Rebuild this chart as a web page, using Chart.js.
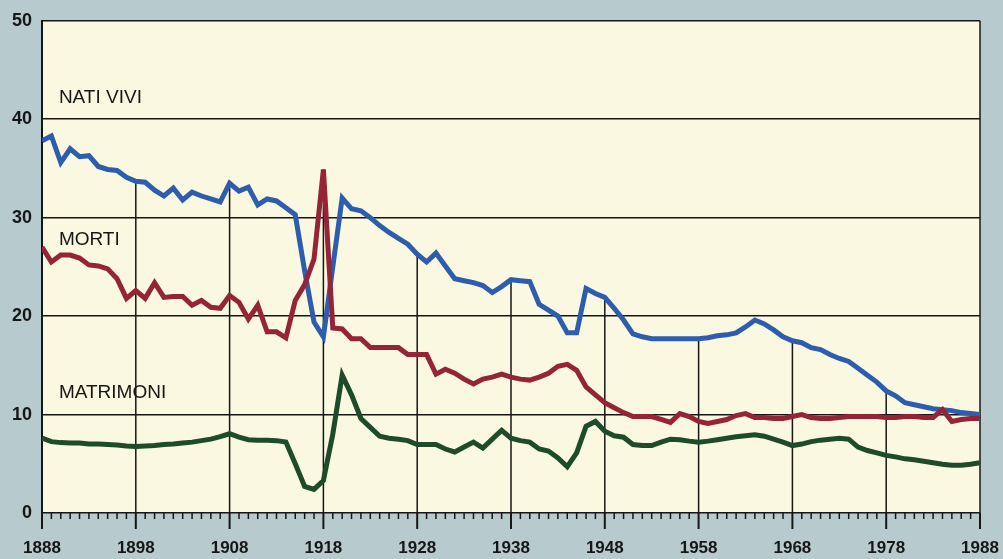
<!DOCTYPE html>
<html lang="it">
<head>
<meta charset="utf-8">
<title>Nati vivi, morti, matrimoni 1888-1988</title>
<script src="https://cdn.jsdelivr.net/npm/chart.js@4/dist/chart.umd.min.js"></script>
<style>
  html, body { margin: 0; padding: 0; background: #b7cacd; }
  #wrap { width: 1003px; height: 559px; }
</style>
</head>
<body>
<div id="wrap"><canvas id="grafico" width="1003" height="559"></canvas></div>
<script>
// anni 1888-1988, un valore per anno (per mille abitanti)
const ANNI = [];
for (let a = 1888; a <= 1988; a++) ANNI.push(a);

const NATI_VIVI = [
  37.8, 38.3, 35.6, 37.0, 36.2, 36.3, 35.2, 34.9, 34.8, 34.1,
  33.7, 33.6, 32.8, 32.2, 33.0, 31.8, 32.6, 32.2, 31.9, 31.6,
  33.5, 32.7, 33.1, 31.3, 31.9, 31.7, 31.0, 30.3, 24.6, 19.4,
  17.9, 25.0, 32.0, 30.9, 30.7, 30.0, 29.2, 28.5, 27.9, 27.3,
  26.3, 25.5, 26.4, 25.1, 23.8, 23.6, 23.4, 23.1, 22.4, 23.0,
  23.7, 23.6, 23.5, 21.2, 20.6, 20.0, 18.3, 18.3, 22.8, 22.3,
  21.9, 20.8, 19.6, 18.2, 17.9, 17.7, 17.7, 17.7, 17.7, 17.7,
  17.7, 17.8, 18.0, 18.1, 18.3, 18.9, 19.6, 19.2, 18.6, 17.9,
  17.5, 17.3, 16.8, 16.6, 16.1, 15.7, 15.4, 14.7, 14.0, 13.3,
  12.4, 11.9, 11.2, 11.0, 10.8, 10.6, 10.5, 10.4, 10.2, 10.1,
  10.0
];

const MORTI = [
  27.0, 25.5, 26.2, 26.2, 25.9, 25.2, 25.1, 24.8, 23.8, 21.8,
  22.6, 21.8, 23.4, 21.9, 22.0, 22.0, 21.1, 21.6, 20.9, 20.8,
  22.1, 21.4, 19.7, 21.1, 18.4, 18.4, 17.8, 21.6, 23.2, 25.8,
  34.9, 18.8, 18.7, 17.7, 17.7, 16.8, 16.8, 16.8, 16.8, 16.1,
  16.1, 16.1, 14.1, 14.6, 14.2, 13.6, 13.1, 13.6, 13.8, 14.1,
  13.8, 13.6, 13.5, 13.8, 14.2, 14.9, 15.1, 14.5, 12.8, 12.0,
  11.2, 10.7, 10.2, 9.8, 9.8, 9.8, 9.5, 9.2, 10.1, 9.8,
  9.3, 9.1, 9.3, 9.5, 9.9, 10.1, 9.7, 9.7, 9.6, 9.6,
  9.8, 10.0, 9.7, 9.6, 9.6, 9.7, 9.8, 9.8, 9.8, 9.8,
  9.7, 9.7, 9.8, 9.8, 9.7, 9.7, 10.5, 9.3, 9.5, 9.6,
  9.6
];

const MATRIMONI = [
  7.6, 7.25, 7.15, 7.1, 7.1, 7.0, 7.0, 6.95, 6.9, 6.8,
  6.75, 6.8, 6.85, 6.95, 7.0, 7.1, 7.2, 7.35, 7.5, 7.75,
  8.05, 7.7, 7.45, 7.4, 7.4, 7.35, 7.2, 5.0, 2.7, 2.4,
  3.3, 8.0, 14.0, 12.0, 9.6, 8.7, 7.8, 7.6, 7.5, 7.35,
  6.95, 6.95, 6.95, 6.5, 6.2, 6.7, 7.2, 6.6, 7.5, 8.4,
  7.6, 7.35, 7.2, 6.5, 6.3, 5.6, 4.7, 6.1, 8.8, 9.3,
  8.3, 7.85, 7.7, 6.95, 6.85, 6.85, 7.2, 7.5, 7.45, 7.3,
  7.2, 7.3, 7.45, 7.6, 7.75, 7.85, 7.95, 7.8, 7.5, 7.2,
  6.85, 7.0, 7.25, 7.4, 7.5, 7.6, 7.5, 6.7, 6.35, 6.1,
  5.85, 5.7, 5.5, 5.4, 5.25, 5.1, 4.95, 4.85, 4.85, 4.95,
  5.1
];

const TICK_ANNI = [1888, 1898, 1908, 1918, 1928, 1938, 1948, 1958, 1968, 1978, 1988];
const TICK_VALORI = [0, 10, 20, 30, 40, 50];
const ETICHETTE = ['NATI VIVI', 'MORTI', 'MATRIMONI'];

const INCHIOSTRO = '#161616';
const punti = serie => ANNI.map((a, i) => ({ x: a, y: serie[i] }));

// fondo crema dell'area del grafico
const sfondo = {
  id: 'sfondo',
  beforeDraw(chart) {
    const { ctx, chartArea: ca } = chart;
    ctx.save();
    ctx.fillStyle = '#fbf8e1';
    ctx.fillRect(ca.left, ca.top, ca.right - ca.left, ca.bottom - ca.top);
    ctx.restore();
  }
};

// linee verticali (partono dalla curva più alta), bordo destro e tacche annuali
const griglia = {
  id: 'griglia',
  beforeDatasetsDraw(chart) {
    const { ctx, chartArea: ca, scales: { x, y } } = chart;
    ctx.save();
    ctx.strokeStyle = INCHIOSTRO;
    ctx.lineWidth = 1.5;
    TICK_ANNI.forEach(anno => {
      const i = ANNI.indexOf(anno);
      const px = x.getPixelForValue(anno);
      let top = y.getPixelForValue(Math.max(NATI_VIVI[i], MORTI[i], MATRIMONI[i]));
      if (anno === 1888 || anno === 1988) top = ca.top;
      ctx.beginPath();
      ctx.moveTo(px, top);
      ctx.lineTo(px, ca.bottom);
      ctx.stroke();
    });
    // tacche sotto l'asse
    ANNI.forEach(anno => {
      const px = x.getPixelForValue(anno);
      const lungo = TICK_ANNI.includes(anno);
      ctx.lineWidth = lungo ? 2 : 1.5;
      ctx.beginPath();
      ctx.moveTo(px, ca.bottom);
      ctx.lineTo(px, ca.bottom + (lungo ? 16 : 6));
      ctx.stroke();
    });
    ctx.restore();
  }
};

// nomi delle serie dentro il grafico
const etichette = {
  id: 'etichette',
  afterDatasetsDraw(chart) {
    const { ctx, scales: { x, y } } = chart;
    const posizioni = [[1889.8, 41.6], [1889.8, 27.2], [1889.8, 11.7]];
    ctx.save();
    ctx.fillStyle = INCHIOSTRO;
    ctx.font = '19px "Liberation Sans", Arial, sans-serif';
    ctx.textBaseline = 'alphabetic';
    ETICHETTE.forEach((t, i) => {
      ctx.fillText(t, x.getPixelForValue(posizioni[i][0]), y.getPixelForValue(posizioni[i][1]));
    });
    ctx.restore();
  }
};

new Chart(document.getElementById('grafico'), {
  type: 'line',
  data: {
    datasets: [
      { label: 'MORTI', data: punti(MORTI), borderColor: '#952536' },
      { label: 'NATI VIVI', data: punti(NATI_VIVI), borderColor: '#2d5dac' },
      { label: 'MATRIMONI', data: punti(MATRIMONI), borderColor: '#1e4b29' }
    ]
  },
  options: {
    responsive: false,
    animation: false,
    devicePixelRatio: 1,
    layout: { padding: { top: 18, right: 23, left: 0, bottom: 0 } },
    elements: {
      line: { borderWidth: 5, tension: 0, borderJoinStyle: 'miter' },
      point: { radius: 0, hoverRadius: 0 }
    },
    plugins: { legend: { display: false }, tooltip: { enabled: false } },
    scales: {
      x: {
        type: 'linear',
        min: 1888,
        max: 1988,
        afterFit: s => { s.height = 46; s.paddingLeft = 0; s.paddingRight = 0; },
        afterBuildTicks: s => { s.ticks = TICK_ANNI.map(v => ({ value: v })); },
        ticks: {
          autoSkip: false,
          maxRotation: 0,
          padding: 17,
          color: INCHIOSTRO,
          font: { family: '"Liberation Sans", Arial, sans-serif', size: 17, weight: 'bold' },
          callback: v => String(v)
        },
        grid: { display: false },
        border: { display: false }
      },
      y: {
        min: 0,
        max: 50,
        afterFit: s => { s.width = 42; },
        afterBuildTicks: s => { s.ticks = TICK_VALORI.map(v => ({ value: v })); },
        ticks: {
          padding: 10,
          color: INCHIOSTRO,
          font: { family: '"Liberation Sans", Arial, sans-serif', size: 18, weight: 'bold' }
        },
        grid: { color: INCHIOSTRO, lineWidth: 1.5, drawTicks: false },
        border: { display: true, color: INCHIOSTRO, width: 2 }
      }
    }
  },
  plugins: [sfondo, griglia, etichette]
});
</script>
</body>
</html>
